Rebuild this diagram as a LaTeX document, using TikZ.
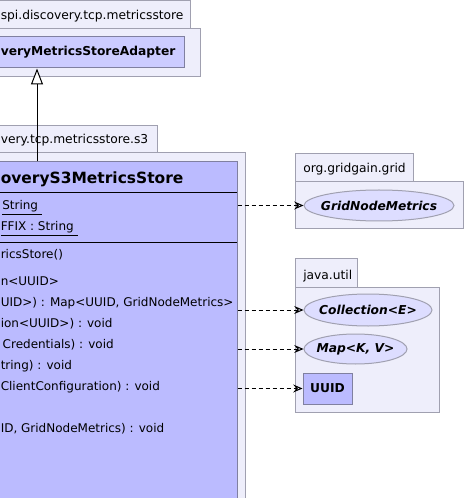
\documentclass[tikz,border=0pt]{standalone}
\usepackage{fontspec}
\setmainfont{DejaVu Sans}
\usetikzlibrary{arrows.meta,shapes.geometric}

\definecolor{pkgfill}{RGB}{238,238,251}
\definecolor{pkgline}{RGB}{160,160,176}
\definecolor{adapterfill}{RGB}{204,204,255}
\definecolor{classfill}{RGB}{187,187,255}
\definecolor{classline}{RGB}{128,128,160}
\definecolor{ifacefill}{RGB}{221,221,255}

\tikzset{
  pkg/.style={draw=pkgline, fill=pkgfill, line width=0.75pt},
  classbox/.style={draw=classline, fill=classfill, line width=0.75pt, inner sep=0pt},
  iface/.style={ellipse, draw=pkgline, fill=ifacefill, line width=0.75pt, inner sep=0pt},
  txt/.style={inner sep=0pt, anchor=base west, font=\fontsize{9}{11}\selectfont},
  boldtxt/.style={inner sep=0pt, anchor=base west, font=\fontsize{9.2}{11}\selectfont\bfseries},
  ifacetxt/.style={inner sep=0pt, font=\fontsize{9.2}{11}\selectfont\bfseries\itshape},
  depend/.style={line width=0.75pt, dash pattern=on 3pt off 2.25pt, -{Stealth[open,length=7pt,width=6pt,inset=2.5pt]}},
}

\begin{document}
\begin{tikzpicture}[x=0.75pt,y=0.75pt,yscale=-1,xscale=1]
\useasboundingbox (0,0) rectangle (464,498);
\clip (0,0) rectangle (464,498);

%Package: metricsstore
\draw[pkg] (-200,1) rectangle (190,29);
\draw[pkg] (-200,29) rectangle (200,77);
% Text Node
\node[txt, font=\fontsize{9.2}{11}\selectfont] (pkgtop) at (0.5,20) {spi.discovery.tcp.metricsstore};

%Package: metricsstore.s3
\draw[pkg] (-200,126) rectangle (157,153);
\draw[pkg] (-200,153) rectangle (245,560);
% Text Node
\node[txt, font=\fontsize{9.2}{11}\selectfont] (pkgs3) at (0.5,144) {very.tcp.metricsstore.s3};

%Package: org.gridgain.grid
\draw[pkg] (295,154) rectangle (413,182);
\draw[pkg] (295,182) rectangle (463,229);
% Text Node
\node[txt, font=\fontsize{9.2}{11}\selectfont] (pkggrid) at (303,173) {org.gridgain.grid};

%Package: java.util
\draw[pkg] (295,259) rectangle (357,287);
\draw[pkg] (295,287) rectangle (439,412);
% Text Node
\node[txt, font=\fontsize{9.2}{11}\selectfont] (pkgutil) at (303,279) {java.util};

%Class: adapter
\node[classbox, fill=adapterfill, minimum width=220.5pt, minimum height=23.25pt] (adapter) at (37,52.5) {};
\node[boldtxt] (adaptername) at (0.5,56) {veryMetricsStoreAdapter};

%Class: s3 store
\node[classbox, minimum width=300pt, minimum height=283.5pt] (s3store) at (37,351) {};
\node[boldtxt, font=\fontsize{11.6}{13}\selectfont\bfseries] (s3name) at (0.5,184) {overyS3MetricsStore};
\draw[line width=0.75pt] (-163,193) -- (237,193);
\draw[line width=0.75pt] (-163,243) -- (237,243);

% Fields
\node[txt] (f1) at (2,210) {\underline{String\ }};
\node[txt] (f2) at (0.5,231) {\underline{FFIX : String\ }};

% Methods
\node[txt] (m1) at (0.5,258) {ricsStore()};
\node[txt] (m2) at (0.5,285) {n<UUID>};
\node[txt] (m3) at (0.5,306) {UID>) : Map<UUID, GridNodeMetrics>};
\node[txt] (m4) at (0.5,327) {ion<UUID>) : void};
\node[txt, anchor=base east] (m5) at (114,348) {Credentials) : void};
\node[txt] (m6) at (0.5,369) {tring) : void};
\node[txt] (m7) at (0.5,390) {ClientConfiguration) : void};
\node[txt] (m8) at (0.5,432) {ID, GridNodeMetrics) : void};

%Interfaces and classes used
\node[iface, minimum width=112.5pt, minimum height=23.25pt,
  label={[ifacetxt]center:GridNodeMetrics}] (gnm) at (379,205.5) {};
\node[iface, minimum width=96pt, minimum height=24pt,
  label={[ifacetxt]center:Collection<E>}] (coll) at (368,310) {};
\node[iface, minimum width=77.25pt, minimum height=22.5pt,
  label={[ifacetxt]center:Map<K, V>}] (map) at (355.5,349) {};
\node[classbox, minimum width=36.75pt, minimum height=23.25pt,
  font=\fontsize{9.2}{11}\selectfont\bfseries] (uuid) at (327.5,388.5) {UUID};

% Inheritance
\draw[line width=0.75pt, -{Triangle[open,length=12pt,width=9pt,fill=white]}] (s3store.north) -- (adapter.south);

% Dependencies
\draw[depend] (s3store.east |- gnm.west) -- (gnm.west);
\draw[depend] (s3store.east |- coll.west) -- (coll.west);
\draw[depend] (s3store.east |- map.west) -- (map.west);
\draw[depend] (s3store.east |- uuid.west) -- (uuid.west);

\end{tikzpicture}
\end{document}
